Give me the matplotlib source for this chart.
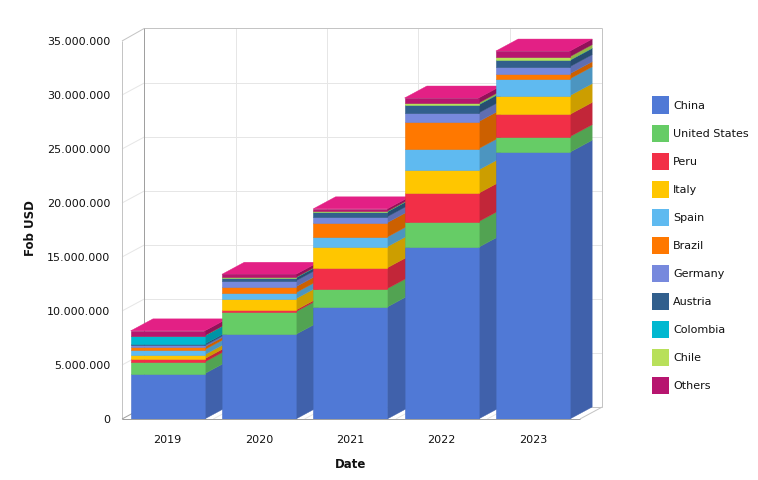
import matplotlib
matplotlib.use("Agg")
import matplotlib.pyplot as plt
import numpy as np
from matplotlib.colors import to_rgb
from matplotlib.patches import Polygon
from matplotlib.ticker import FuncFormatter

years = ["2019", "2020", "2021", "2022", "2023"]
china = [4.20, 7.84, 10.37, 15.90, 24.70]
united_states = [1.08, 2.10, 1.70, 2.37, 1.44]
peru = [0.30, 0.15, 1.93, 2.63, 2.06]
italy = [0.37, 1.05, 1.95, 2.16, 1.74]
spain = [0.47, 0.56, 0.90, 1.97, 1.56]
brazil = [0.25, 0.55, 1.33, 2.50, 0.47]
germany = [0.15, 0.55, 0.55, 0.80, 0.65]
austria = [0.12, 0.26, 0.44, 0.74, 0.58]
colombia = [0.77, 0.04, 0.02, 0.03, 0.02]
chile = [0.01, 0.02, 0.05, 0.16, 0.33]
others = [0.44, 0.28, 0.22, 0.46, 0.52]

names = ["China", "United States", "Peru", "Italy", "Spain", "Brazil",
         "Germany", "Austria", "Colombia", "Chile", "Others"]
series = [china, united_states, peru, italy, spain, brazil,
          germany, austria, colombia, chile, others]
colors = ["#5079D6", "#66CC66", "#F22F47", "#FFC600", "#5FBAF0", "#FF7800",
          "#7789DD", "#315F8D", "#00B8D0", "#B8E05A", "#B7156F"]
top_color = "#E32085"

W, H = 758, 480
step_px = 91.3
plt.rcParams["font.family"] = "DejaVu Sans"
fig = plt.figure(figsize=(W / 100, H / 100), dpi=100, facecolor="white")
ax = fig.add_axes([122 / W, (H - 419) / H, 5 * step_px / W, 378 / H])
ymax = 35e6
ax.set_xlim(-0.5, 4.5)
ax.set_ylim(0, ymax)
for s in ax.spines.values():
    s.set_visible(False)

# depth of the fake 3D box, in data units
dx = 22.3 / step_px
dy = 12 / 378 * ymax
bar_w = 74 / step_px


def shade(c, f=0.8):
    return tuple(v * f for v in to_rgb(c))


def ln(xs, ys, c, lw=0.72, z=1):
    ax.plot(xs, ys, color=c, lw=lw, zorder=z, clip_on=False, solid_capstyle="butt")


grid_c, wall_c, back_c = "#E6E6E6", "#C4C4C4", "#A0A0A0"
x0, x1 = -0.5, 4.516
wall_top = ymax + dy * 1.05
yticks = np.arange(0, ymax + 1, 5e6)
for v in yticks[1:-1]:
    ln([x0 + dx, x1 + dx], [v + dy, v + dy], grid_c)
    ln([x0, x0 + dx], [v, v + dy], grid_c)
for b in np.arange(x0 + 1, 4.5):
    ln([b + dx, b + dx], [dy, wall_top], grid_c)
    ln([b, b + dx], [0, dy], grid_c)
ln([x0, x0], [0, ymax], wall_c)
ln([x0, x0 + dx], [ymax, wall_top], wall_c)
ln([x0 + dx, x1 + dx], [wall_top, wall_top], wall_c)
ln([x1 + dx, x1 + dx], [dy, wall_top], wall_c)
ln([x0 + dx, x0 + dx], [dy, wall_top], back_c)
ln([x0, x1], [0, 0], back_c, z=30)
ln([x0, x0 + dx], [0, dy], back_c)
ln([x0 + dx, x1 + dx], [dy, dy], wall_c)
ln([x1, x1 + dx], [0, dy], wall_c)

xs = np.arange(len(years))
bottoms = np.zeros(len(years))
handles = []
for i, (name, vals, col) in enumerate(zip(names, series, colors)):
    v = np.array(vals) * 1e6
    for k, x in enumerate(xs):
        xr = x + bar_w / 2
        b, t = bottoms[k], bottoms[k] + v[k]
        z = 2 + k * 3
        ax.add_patch(Polygon([(xr, b), (xr + dx, b + dy), (xr + dx, t + dy), (xr, t)],
                             closed=True, fc=shade(col), ec=shade(col), lw=0.3,
                             zorder=z, clip_on=False))
        if i == len(series) - 1:
            xl = x - bar_w / 2
            ax.add_patch(Polygon([(xl, t), (xr, t), (xr + dx, t + dy), (xl + dx, t + dy)],
                                 closed=True, fc=top_color, ec=top_color, lw=0.3,
                                 zorder=z, clip_on=False))
    bars = ax.bar(xs, v, bar_w, bottom=bottoms, color=col, label=name,
                  edgecolor=shade(col, 0.93), linewidth=0.4, clip_on=False)
    for k, r in enumerate(bars):
        r.set_zorder(3 + k * 3)
    handles.append(bars)
    bottoms = bottoms + v

ax.set_xticks(xs, years)
ax.set_yticks(yticks)
ax.yaxis.set_major_formatter(FuncFormatter(lambda v, _: f"{int(v):,}".replace(",", ".")))
ax.tick_params(axis="y", length=0, pad=8.6, labelsize=8, labelcolor="#111111")
ax.tick_params(axis="x", length=0, pad=11.6, labelsize=8, labelcolor="#111111")
ax.set_xlabel("Date", fontsize=8.5, fontweight="bold", color="#111111")
ax.xaxis.set_label_coords(0.5, (419 - 464) / 378, transform=ax.transAxes)
ax.xaxis.label.set_va("center")
ax.set_ylabel("Fob USD", fontsize=8.5, fontweight="bold", color="#111111")
ax.yaxis.set_label_coords((31 - 122) / (5 * step_px), (419 - 228) / 378, transform=ax.transAxes)
ax.yaxis.label.set_va("center")

leg = fig.legend(
    handles=[h[0] for h in handles], labels=names,
    loc="upper left", bbox_to_anchor=(652 / W, (H - 96.5) / H),
    frameon=False, fontsize=8, borderpad=0, borderaxespad=0,
    handlelength=17 / 11.1, handleheight=1.98,
    labelspacing=11 / 11.1, handletextpad=4 / 11.1, labelcolor="#111111",
)
for p in leg.get_patches():
    p.set_edgecolor(p.get_facecolor())
    p.set_linewidth(0)

fig.savefig("out.png", dpi=100, facecolor="white")
